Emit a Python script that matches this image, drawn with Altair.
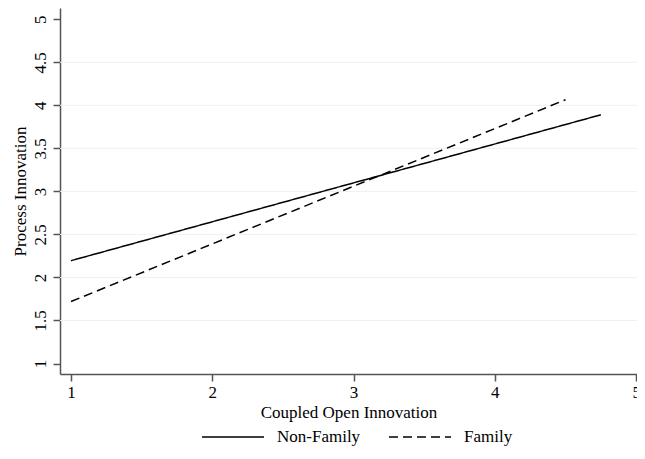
import altair as alt
import pandas as pd

# Fitted lines (endpoints)
series = ["Non-Family", "Non-Family", "Family", "Family"]
coupled = [1.0, 4.75, 1.0, 4.5]
process = [2.195, 3.89, 1.72, 4.065]

grid_values = [1.5, 2.0, 2.5, 3.0, 3.5, 4.0, 4.5]
y_ticks = [1, 1.5, 2, 2.5, 3, 3.5, 4, 4.5, 5]
x_ticks = [1, 2, 3, 4, 5]

lines = pd.DataFrame({"group": series, "x": coupled, "y": process})
grid = pd.DataFrame({"g": grid_values})

FONT = "Liberation Serif"
XDOM = [0.922, 5.006]
YDOM = [0.878, 5.131]

xs = alt.Scale(domain=XDOM, nice=False, zero=False)
ys = alt.Scale(domain=YDOM, nice=False, zero=False)

x_axis = alt.Axis(
    values=x_ticks, format="d", title="Coupled Open Innovation",
    grid=False, tickSize=7, labelPadding=3, titlePadding=4, labelFlush=False,
)
y_axis = alt.Axis(
    values=y_ticks, format="~g", title="Process Innovation",
    grid=False, tickSize=7, labelAngle=270, labelAlign="center",
    labelBaseline="bottom", labelPadding=4, titlePadding=2, labelFlush=False,
)

gridlayer = alt.Chart(grid).mark_rule(color="#eaf2f3", strokeWidth=1).encode(
    y=alt.Y("g:Q", scale=ys, axis=y_axis)
)

line_layer = alt.Chart(lines).mark_line(color="black", strokeWidth=1.5, clip=True).encode(
    x=alt.X("x:Q", scale=xs, axis=x_axis),
    y=alt.Y("y:Q", scale=ys, axis=y_axis),
    strokeDash=alt.StrokeDash(
        "group:N",
        scale=alt.Scale(domain=["Non-Family", "Family"], range=[[1, 0], [9, 5]]),
        legend=alt.Legend(
            title=None, orient="none", direction="horizontal", columns=2,
            legendX=141, legendY=397, symbolType="stroke", symbolSize=3844,
            symbolStrokeColor="black", symbolStrokeWidth=1.5,
            labelOffset=12, columnPadding=25, labelFont=FONT, labelFontSize=17,
            labelColor="black",
        ),
    ),
    detail="group:N",
)

chart = (
    alt.layer(gridlayer, line_layer)
    .properties(
        width=577, height=366,
        autosize=alt.AutoSizeParams(type="none"),
        padding={"left": 52, "top": 0, "right": 0, "bottom": 72},
        background="white",
    )
    .configure_view(stroke=None)
    .configure_axis(
        labelFont=FONT, titleFont=FONT, labelFontSize=17, titleFontSize=17,
        titleFontWeight="normal", labelColor="black", titleColor="black",
        domainColor="#555555", tickColor="#555555", domainWidth=1.5, tickWidth=1.5,
    )
)

chart.save("out.html", embed_options={"renderer": "svg", "actions": False})
